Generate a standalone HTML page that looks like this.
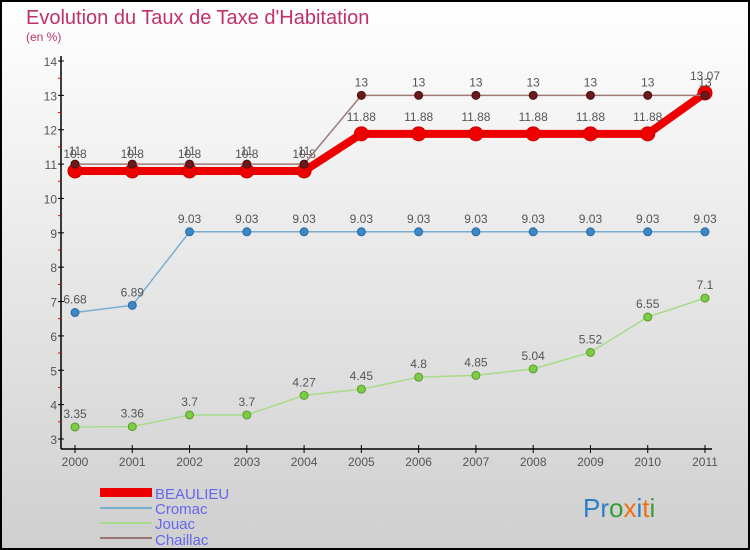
<!DOCTYPE html>
<html><head><meta charset="utf-8"><style>
body{margin:0;width:750px;height:550px;overflow:hidden}
svg{display:block;font-family:"Liberation Sans",sans-serif}
</style></head><body>
<svg id="c" width="750" height="550">
<defs><linearGradient id="bg" x1="0" y1="0" x2="0" y2="1"><stop offset="0" stop-color="#ffffff"/><stop offset="1" stop-color="#cfcfcf"/></linearGradient></defs>
<rect x="1" y="1" width="748" height="548" fill="url(#bg)" stroke="#000" stroke-width="2"/>
<text x="26" y="24" font-size="20" fill="#c0306a">Evolution du Taux de Taxe d'Habitation</text>
<text x="26" y="41" font-size="12" fill="#c0306a">(en %)</text>
<g id="axes"></g><g id="series"></g>
<g>
<rect x="100" y="488" width="52" height="9" fill="#ee0000"/>
<text x="155" y="499" font-size="15" fill="#6666ee">BEAULIEU</text>
<rect x="100" y="507" width="52" height="2" fill="#7aaed0"/>
<text x="155" y="514" font-size="15" fill="#6666ee">Cromac</text>
<rect x="100" y="522" width="52" height="2" fill="#a8dc88"/>
<text x="155" y="529" font-size="15" fill="#6666ee">Jouac</text>
<rect x="100" y="537" width="52" height="2" fill="#997777"/>
<text x="155" y="545" font-size="15" fill="#6666ee">Chaillac</text>
</g>
<text x="583" y="517" font-size="26"><tspan fill="#2a7ec8">Pr</tspan><tspan fill="#3a9a3a">o</tspan><tspan fill="#f07010">x</tspan><tspan fill="#2a7ec8">i</tspan><tspan fill="#f07010">t</tspan><tspan fill="#3a9a3a">i</tspan></text>
</svg>
<script>
const years=["2000","2001","2002","2003","2004","2005","2006","2007","2008","2009","2010","2011"];
const yTicks=[3,4,5,6,7,8,9,10,11,12,13,14];
const beaulieu=[10.8,10.8,10.8,10.8,10.8,11.88,11.88,11.88,11.88,11.88,11.88,13.07];
const cromac=[6.68,6.89,9.03,9.03,9.03,9.03,9.03,9.03,9.03,9.03,9.03,9.03];
const jouac=[3.35,3.36,3.7,3.7,4.27,4.45,4.8,4.85,5.04,5.52,6.55,7.1];
const chaillac=[11,11,11,11,11,13,13,13,13,13,13,13];
const NS="http://www.w3.org/2000/svg";
const X=i=>75+i*(630/11);
const Y=v=>439-(v-3)*(378/11);
function mk(t,a,p){const e=document.createElementNS(NS,t);for(const k in a)e.setAttribute(k,a[k]);p.appendChild(e);return e;}
const ax=document.getElementById('axes'),sg=document.getElementById('series');
let l=mk('line',{x1:61,y1:56,x2:61,y2:449,stroke:'#000','stroke-width':1.5},ax);


l=mk('line',{x1:61,y1:449,x2:712,y2:449,stroke:'#000','stroke-width':1.5},ax);


yTicks.forEach(v=>{
 mk('line',{x1:58,y1:Y(v),x2:64,y2:Y(v),stroke:'#000'},ax);
 if(v<14)mk('line',{x1:58,y1:Y(v+0.5),x2:61,y2:Y(v+0.5),stroke:'#e00'},ax);
 const t=mk('text',{x:57,y:Y(v)+5,'text-anchor':'end','font-size':12,fill:'#555'},ax);t.textContent=v;
 
 
});
years.forEach((y,i)=>{
 mk('line',{x1:X(i),y1:445,x2:X(i),y2:453,stroke:'#000'},ax);
 const t=mk('text',{x:X(i),y:466,'text-anchor':'middle','font-size':12,fill:'#555'},ax);t.textContent=y;
 
 
});
function series(name,vals,col,dot,w,r,dstroke){
 const g=mk('g',{},sg);
 
 
 mk('polyline',{points:vals.map((v,i)=>X(i)+','+Y(v)).join(' '),fill:'none',stroke:col,'stroke-width':w,'stroke-linejoin':'round'},g);
 vals.forEach((v,i)=>{
  const c=mk('circle',{cx:X(i),cy:Y(v),r:r,fill:dot,stroke:dstroke,'stroke-width':1},g);
  
  
  const t=mk('text',{x:X(i),y:Y(v)-9-(r>5?4:0),'text-anchor':'middle','font-size':12,fill:'#555'},g);t.textContent=v;
  
  
 });
}
series('jouac',jouac,'#a8dc88','#7ccc44',1.5,4,'#5a9a30');
series('cromac',cromac,'#7aaed0','#3a88c8',1.5,4,'#2a6aa0');
series('beaulieu',beaulieu,'#ee0000','#ee0000',8,7,'#cc0000');
series('chaillac',chaillac,'#a07878','#6a1a1a',1.5,4,'#4a1010');
</script>
</body></html>
